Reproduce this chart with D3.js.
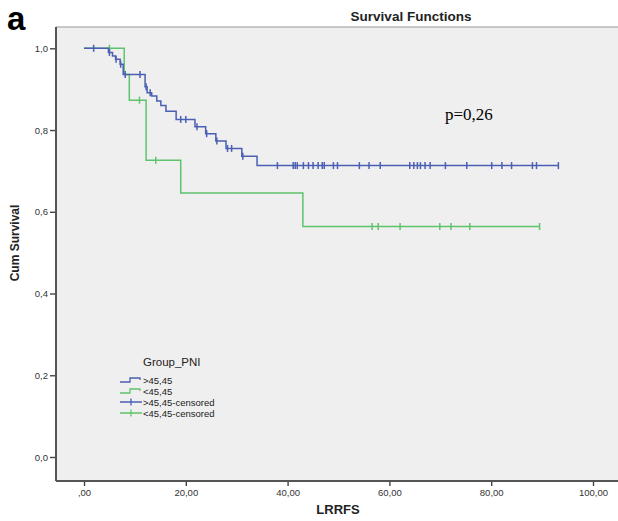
<!doctype html>
<html>
<head>
<meta charset="UTF-8">
<title>Survival Functions</title>
<script src="https://d3js.org/d3.v7.min.js"></script>
<style>
  body { margin: 0; background: #fff; }
  text { font-family: "Liberation Sans", Arial, sans-serif; }
</style>
</head>
<body>
<script>
// x tick values and y tick values
var xTicks = [0, 20, 40, 60, 80, 100];
var yTicks = [0, 0.2, 0.4, 0.6, 0.8, 1.0];

// >45,45 group: step times and survival after each step
var blueTimes = [0, 4.8, 5.6, 6.2, 7.1, 7.7, 12.0, 12.4, 13.3, 14.3, 15.1, 16.1, 18.1, 21.8, 23.9, 25.9, 27.9, 31.0, 34.0];
var blueSurv  = [1.0, 0.990, 0.981, 0.973, 0.961, 0.936, 0.906, 0.891, 0.883, 0.871, 0.860, 0.846, 0.826, 0.808, 0.791, 0.773, 0.755, 0.736, 0.713];
var blueEnd = 93.2;
var blueCensored = [1.9, 5.0, 6.3, 7.2, 8.1, 11.0, 12.2, 13.0, 19.0, 20.0, 22.2, 24.1, 26.1, 28.2, 29.0, 31.2,
  38.0, 41.1, 41.5, 41.9, 43.1, 44.1, 45.0, 46.0, 46.8, 47.2, 49.0, 49.8, 54.1, 56.0, 58.2,
  64.0, 64.8, 65.5, 66.1, 67.0, 68.0, 71.0, 75.2, 80.1, 82.1, 84.0, 88.1, 88.9, 93.2];

// <45,45 group
var greenTimes = [0, 7.9, 8.9, 12.2, 19.0, 43.0];
var greenSurv  = [1.0, 0.936, 0.873, 0.726, 0.646, 0.564];
var greenEnd = 89.5;
var greenCensored = [5.0, 10.9, 14.1, 56.6, 57.8, 62.1, 69.9, 72.1, 75.8, 89.5];

var legendLabels = [">45,45", "<45,45", ">45,45-censored", "<45,45-censored"];

var blue = "#4b5fb3", green = "#5ec46c";

var svg = d3.select("body").append("svg")
  .attr("width", 618).attr("height", 521);

var frame = {left: 56, top: 27, right: 618, bottom: 481};

var x = d3.scaleLinear().domain([0, 100]).range([84, 593]);
var y = d3.scaleLinear().domain([0, 1]).range([457, 48.3]);

var loc = d3.formatLocale({decimal: ",", thousands: ".", grouping: [3], currency: ["", ""]});
var fx = loc.format(".2f"), fy = loc.format(".1f");

svg.append("rect")
  .attr("x", frame.left).attr("y", frame.top)
  .attr("width", frame.right - frame.left).attr("height", frame.bottom - frame.top)
  .attr("fill", "#efefef");

svg.append("line")
  .attr("x1", frame.left).attr("x2", frame.right)
  .attr("y1", frame.top).attr("y2", frame.top)
  .attr("stroke", "#9a9a9a").attr("stroke-width", 1.2);

// axes
var gx = svg.append("g").attr("transform", "translate(0," + frame.bottom + ")")
  .call(d3.axisBottom(x).tickValues(xTicks).tickSize(5).tickPadding(3)
    .tickFormat(function(d){ return d === 0 ? ",00" : fx(d); }));
var gy = svg.append("g").attr("transform", "translate(" + frame.left + ",0)")
  .call(d3.axisLeft(y).tickValues(yTicks).tickSize(6).tickPadding(2)
    .tickFormat(function(d){ return fy(d); }));

[gx, gy].forEach(function(g){
  g.select(".domain").remove();
  g.selectAll(".tick line").attr("stroke", "#444").attr("stroke-width", 1.4);
  g.selectAll(".tick text").attr("fill", "#333").style("font-size", "9.5px")
    .style("font-family", "'Liberation Sans', Arial, sans-serif");
});

svg.append("line")
  .attr("x1", frame.left).attr("x2", frame.left)
  .attr("y1", frame.top).attr("y2", frame.bottom)
  .attr("stroke", "#555").attr("stroke-width", 2);
svg.append("line")
  .attr("x1", frame.left).attr("x2", frame.right)
  .attr("y1", frame.bottom).attr("y2", frame.bottom)
  .attr("stroke", "#555").attr("stroke-width", 2);

// step curves
function stepPoints(times, surv, end){
  var pts = times.map(function(t, i){ return [t, surv[i]]; });
  pts.push([end, surv[surv.length - 1]]);
  return pts;
}
function survAt(times, surv, t){
  var s = surv[0];
  for (var i = 0; i < times.length; i++) if (times[i] <= t) s = surv[i];
  return s;
}
var line = d3.line().x(function(d){ return x(d[0]); }).y(function(d){ return y(d[1]); })
  .curve(d3.curveStepAfter);

function drawGroup(times, surv, end, cens, color){
  svg.append("path").datum(stepPoints(times, surv, end))
    .attr("d", line).attr("fill", "none")
    .attr("stroke", color).attr("stroke-width", 1.5);
  svg.append("g").selectAll("line").data(cens).enter().append("line")
    .attr("x1", function(d){ return x(d); }).attr("x2", function(d){ return x(d); })
    .attr("y1", function(d){ return y(survAt(times, surv, d)) - 3.5; })
    .attr("y2", function(d){ return y(survAt(times, surv, d)) + 3.5; })
    .attr("stroke", color).attr("stroke-width", 1.5);
}
drawGroup(greenTimes, greenSurv, greenEnd, greenCensored, green);
drawGroup(blueTimes, blueSurv, blueEnd, blueCensored, blue);

// texts
svg.append("text").attr("x", 7).attr("y", 30)
  .style("font-size", "33px").style("font-weight", "bold").text("a");
svg.append("text").attr("x", 411).attr("y", 21).attr("text-anchor", "middle")
  .style("font-size", "13.5px").style("font-weight", "bold").attr("fill", "#222")
  .text("Survival Functions");
svg.append("text").attr("x", 338).attr("y", 514).attr("text-anchor", "middle")
  .style("font-size", "13px").style("font-weight", "bold").attr("fill", "#222")
  .text("LRRFS");
svg.append("text").attr("transform", "translate(19,243) rotate(-90)")
  .attr("text-anchor", "middle")
  .style("font-size", "12px").style("font-weight", "bold").attr("fill", "#222")
  .text("Cum Survival");
svg.append("text").attr("x", 445).attr("y", 120)
  .style("font-family", "'Liberation Serif', 'Times New Roman', serif")
  .style("font-size", "17px").text("p=0,26");

// legend
svg.append("text").attr("x", 143).attr("y", 366)
  .style("font-size", "11.5px").attr("fill", "#222").text("Group_PNI");
var legColors = [blue, green, blue, green];
var leg = svg.append("g").selectAll("g").data(legendLabels).enter().append("g")
  .attr("transform", function(d, i){ return "translate(0," + (380 + i * 11) + ")"; });
leg.each(function(d, i){
  var g = d3.select(this);
  if (i < 2) {
    g.append("path").attr("d", "M120,2 H130 V-2 H140 V0")
      .attr("fill", "none").attr("stroke", legColors[i]).attr("stroke-width", 1.3);
  } else {
    g.append("path").attr("d", "M120,0 H142 M131,-3.5 V3.5")
      .attr("fill", "none").attr("stroke", legColors[i]).attr("stroke-width", 1.3);
  }
  g.append("text").attr("x", 143).attr("y", 3.5)
    .style("font-size", "9.5px").attr("fill", "#222").text(d);
});
</script>
</body>
</html>
